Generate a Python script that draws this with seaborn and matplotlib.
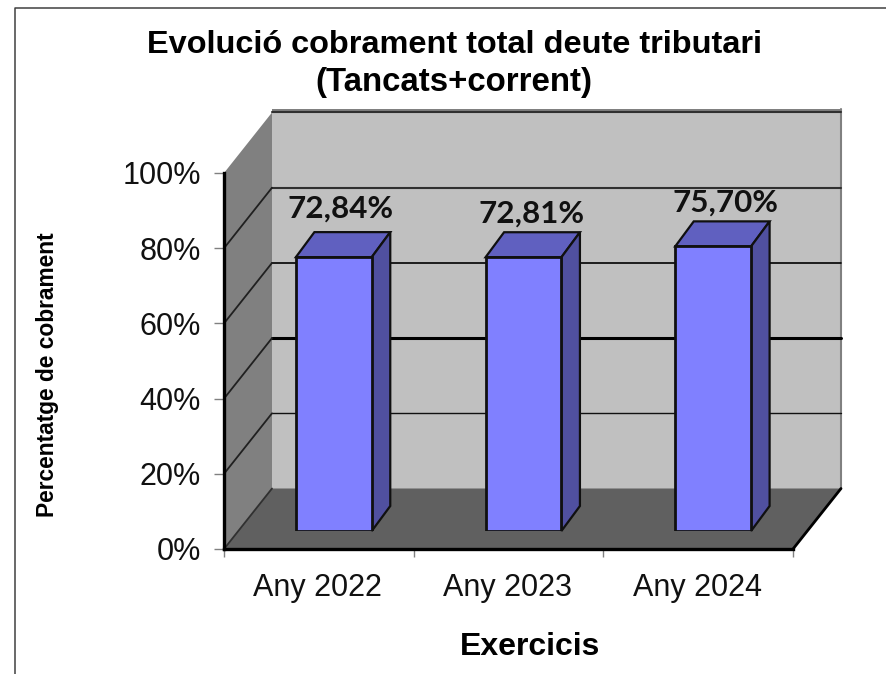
import matplotlib
matplotlib.use('Agg')
import matplotlib.pyplot as plt
import pandas as pd
import seaborn as sns

# dades del grafic
years = ['Any 2022', 'Any 2023', 'Any 2024']
collected = [72.84, 72.81, 75.70]
value_labels = ['72,84%', '72,81%', '75,70%']
y_ticks = [0, 20, 40, 60, 80, 100]

W, H = 887, 674

sns.set_theme(style='white')
plt.rcParams['font.family'] = ['Liberation Sans', 'DejaVu Sans']

fig = plt.figure(figsize=(W / 100, H / 100), dpi=100, facecolor='white')


def px_box(left, top, right, bottom):
    return [left / W, 1 - bottom / H, (right - left) / W, (bottom - top) / H]


# marc exterior (nomes dalt i a l'esquerra, la resta queda tallat)
fig.add_artist(plt.Line2D([15.5 / W, 15.5 / W, 1], [0, 1 - 7.5 / H, 1 - 7.5 / H], color='#404040', lw=1.1))

# pla frontal del grafic
ax = fig.add_axes(px_box(224, 173, 793, 549))
ax.set_xlim(-0.5, 2.5)
ax.set_ylim(0, 100)
ax.patch.set_alpha(0)

depth_x = 48 / ((793 - 224) / 3)
depth_y = 60.5 / 3.76
x0, x1 = ax.get_xlim()

# parets i terra
ax.fill([x0 + depth_x, x1 + depth_x, x1 + depth_x, x0 + depth_x],
        [depth_y, depth_y, 100 + depth_y, 100 + depth_y], color='#C0C0C0', lw=0, clip_on=False, zorder=1)
ax.fill([x0, x0 + depth_x, x0 + depth_x, x0], [0, depth_y, 100 + depth_y, 100],
        color='#808080', lw=0, clip_on=False, zorder=1)
ax.fill([x0, x1, x1 + depth_x, x0 + depth_x], [0, 0, depth_y, depth_y],
        color='#606060', lw=0, clip_on=False, zorder=1)
ax.fill([x0 + depth_x, x1 + depth_x, x1 + depth_x, x0 + depth_x],
        [100 + depth_y, 100 + depth_y, 101 + depth_y, 101 + depth_y], color='#808080', lw=0, clip_on=False, zorder=1)
ax.plot([x1 + depth_x, x1 + depth_x], [depth_y, 101 + depth_y], color='#808080', lw=1.5, clip_on=False, zorder=2)
ax.plot([x1, x1 + depth_x], [0, depth_y], color='black', lw=2, clip_on=False, zorder=2)

# linies de graella, al fons i a la paret esquerra
grid_widths = {20: 1.0, 40: 2.2, 60: 1.2, 80: 1.5, 100: 1.5}
grid_colors = {20: '#101010', 40: 'black', 60: 'black', 80: '#303030', 100: '#303030'}
for v in y_ticks[1:]:
    ax.plot([x0 + depth_x, x1 + depth_x], [v + depth_y, v + depth_y], color=grid_colors[v], lw=grid_widths[v],
            clip_on=False, zorder=2)
    if v < 100:
        ax.plot([x0, x0 + depth_x], [v, v + depth_y], color='#202020', lw=1.3, clip_on=False, zorder=2)
ax.plot([x0, x0 + depth_x], [0, depth_y], color='#303030', lw=1.3, clip_on=False, zorder=2)

# eixos
sns.despine(ax=ax, top=True, right=True)
for side in ['left', 'bottom']:
    ax.spines[side].set_linewidth(2.4)
    ax.spines[side].set_color('black')
    ax.spines[side].set_zorder(3)
ax.set_yticks(y_ticks)
ax.set_yticklabels([f'{v}%' for v in y_ticks])
ax.set_xticks([-0.5, 0.5, 1.5, 2.5])
ax.set_xticklabels([])
ax.set_xticks([-0.005, 0.995, 1.995], labels=years, minor=True)
ax.tick_params(axis='y', which='major', left=True, length=7.5, width=1, color='#808080', labelsize=22, pad=9,
               labelcolor='#111111')
ax.tick_params(axis='x', which='major', bottom=True, length=6, width=1, color='#808080')
ax.tick_params(axis='x', which='minor', bottom=False, length=0, labelsize=22, pad=17, labelcolor='#111111')

# barres: desplacades cap al fons respecte al pla frontal
ax_bars = fig.add_axes(px_box(224 + 15, 173 - 18, 793 + 15, 549 - 18), zorder=5)
ax_bars.patch.set_alpha(0)
df = pd.DataFrame({'any': years, 'cobrament': collected})
sns.barplot(data=df, x='any', y='cobrament', ax=ax_bars, color='#8080FF', saturation=1, width=0.4,
            edgecolor='#101010', linewidth=2, zorder=4)
ax_bars.set_xlim(-0.5, 2.5)
ax_bars.set_ylim(0, 100)
ax_bars.axis('off')

bar_dx = 18.5 / ((793 - 224) / 3)
bar_dy = 25 / 3.76
label_shift = [6.5, 8.5, 12]  # desplacament horitzontal de les etiquetes, en pixels
label_rise = [49, 44, 44]
for patch, text, shift, rise in zip(ax_bars.patches, value_labels, label_shift, label_rise):
    left, right = patch.get_x(), patch.get_x() + patch.get_width()
    top = patch.get_height()
    ax_bars.fill([left, right, right + bar_dx, left + bar_dx], [top, top, top + bar_dy, top + bar_dy],
                 facecolor='#6060C0', edgecolor='#101010', lw=1.6, clip_on=False, zorder=3)
    ax_bars.fill([right, right + bar_dx, right + bar_dx, right], [0, bar_dy, top + bar_dy, top],
                 facecolor='#5050A0', edgecolor='#101010', lw=1.6, clip_on=False, zorder=3)
    ax_bars.annotate(text, xy=((left + right) / 2, top), xytext=(shift * 0.72, rise * 0.72),
                     textcoords='offset points', ha='center', va='center', fontsize=22.6, fontweight='bold',
                     family=['Lato', 'DejaVu Sans'], color='#111111', zorder=6)

# titol i etiquetes d'eix
fig.text(454.5 / W, 1 - 45 / H, 'Evoluci\u00f3 cobrament total deute tributari', ha='center', va='center',
         fontsize=23.4, fontweight='bold', color='black')
fig.text(453.5 / W, 1 - 82 / H, '(Tancats+corrent)', ha='center', va='center',
         fontsize=23.8, fontweight='bold', color='black')
fig.text(48 / W, 1 - 375 / H, 'Percentatge de cobrament', rotation=90, ha='center', va='center',
         fontsize=16.4, fontweight='bold', color='black')
fig.text(530 / W, 1 - 647 / H, 'Exercicis', ha='center', va='center', fontsize=23, fontweight='bold', color='black')

fig.savefig('out.png', dpi=100)
